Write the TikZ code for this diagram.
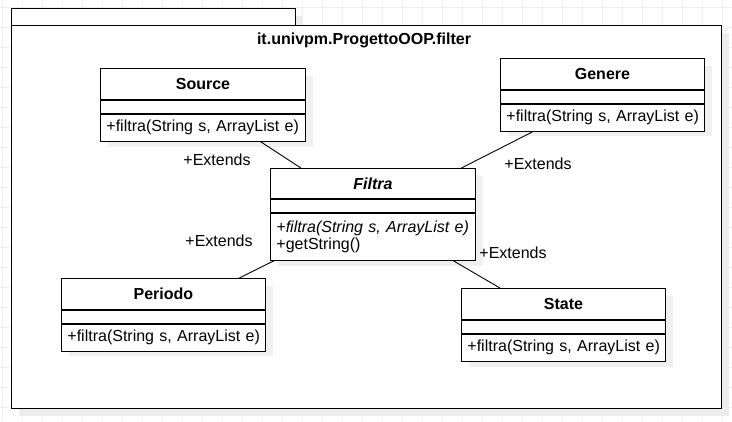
\documentclass[tikz,border=0pt]{standalone}
\usepackage{fontspec}
\setmainfont{Liberation Sans}
\usetikzlibrary{positioning,calc}

\begin{document}
\begin{tikzpicture}[x=1pt,y=-1pt,
    line width=0.9pt,
    every node/.style={font=\fontsize{16}{17}\selectfont},
    head/.style={draw,minimum height=31pt,inner sep=0pt,font=\fontsize{16}{17}\selectfont\bfseries,anchor=north west},
    empty/.style={draw,minimum height=13pt,inner sep=0pt},
    meth/.style={draw,minimum height=27pt,inner xsep=6pt,inner ysep=2pt,align=left},
    lbl/.style={inner sep=1pt}]
    \useasboundingbox (0,0) rectangle (732,421);
    % grid
    \foreach \gx in {2,22,...,722} \draw[black!6,line width=0.6pt] (\gx,0)--(\gx,421);
    \foreach \gy in {7,27,...,407} \draw[black!6,line width=0.6pt] (0,\gy)--(732,\gy);
    % package
    \fill[black!7] (19,16) rectangle (303,33);
    \fill[black!7] (19,33) rectangle (729,416);
    \draw[fill=white] (11,8) rectangle (295,25);
    \draw[fill=white] (11,25) rectangle (721,408);
    \node[font=\fontsize{16}{17}\selectfont\bfseries] (pkg) at (364,40) {it.univpm.ProgettoOOP.filter};
    % shadows
    \fill[black!6] (108,76) rectangle (313,147);
    \fill[black!6] (508,66) rectangle (712,136);
    \fill[black!6] (278,176) rectangle (483,266);
    \fill[black!6] (69,286) rectangle (273,356);
    \fill[black!6] (469,296) rectangle (673,367);
    % Source
    \node[head,fill=white,minimum width=205pt] (src) at (100,68) {Source};
    \node[empty,fill=white,minimum width=205pt,below=0pt of src] (srcA) {};
    \node[meth,fill=white,text width=193pt,below=0pt of srcA] (srcM) {\mbox{+filtra(String s, ArrayList e)}};
    % Genere
    \node[head,fill=white,minimum width=204pt] (gen) at (500,58) {Genere};
    \node[empty,fill=white,minimum width=204pt,below=0pt of gen] (genA) {};
    \node[meth,fill=white,text width=192pt,below=0pt of genA] (genM) {\mbox{+filtra(String s, ArrayList e)}};
    % Filtra
    \node[head,fill=white,minimum width=205pt,minimum height=30pt,font=\fontsize{16}{17}\selectfont\bfseries\itshape] (fil) at (270,168) {Filtra};
    \node[empty,fill=white,minimum width=205pt,below=0pt of fil] (filA) {};
    \node[meth,fill=white,text width=193pt,minimum height=47pt,below=0pt of filA] (filM) {\mbox{\itshape +filtra(String s, ArrayList e)}\\+getString()};
    % Periodo
    \node[head,fill=white,minimum width=204pt] (per) at (61,278) {Periodo};
    \node[empty,fill=white,minimum width=204pt,below=0pt of per] (perA) {};
    \node[meth,fill=white,text width=192pt,below=0pt of perA] (perM) {\mbox{+filtra(String s, ArrayList e)}};
    % State
    \node[head,fill=white,minimum width=204pt] (sta) at (461,288) {State};
    \node[empty,fill=white,minimum width=204pt,below=0pt of sta] (staA) {};
    \node[meth,fill=white,text width=192pt,below=0pt of staA] (staM) {\mbox{+filtra(String s, ArrayList e)}};
    % extends
    \draw ($(srcM.south west)!0.78!(srcM.south east)$) -- ($(fil.north west)!0.15!(fil.north east)$);
    \draw ($(genM.south west)!0.16!(genM.south east)$) -- ($(fil.north west)!0.93!(fil.north east)$);
    \draw ($(filM.south west)!0.02!(filM.south east)$) -- ($(per.north west)!0.87!(per.north east)$);
    \draw ($(filM.south west)!0.89!(filM.south east)$) -- ($(sta.north west)!0.19!(sta.north east)$);
    \node[lbl] (eSrc) at (217,160) {+Extends};
    \node[lbl] (eGen) at (538,164) {+Extends};
    \node[lbl] (ePer) at (219,241) {+Extends};
    \node[lbl] (eSta) at (513,253) {+Extends};
\end{tikzpicture}
\end{document}
